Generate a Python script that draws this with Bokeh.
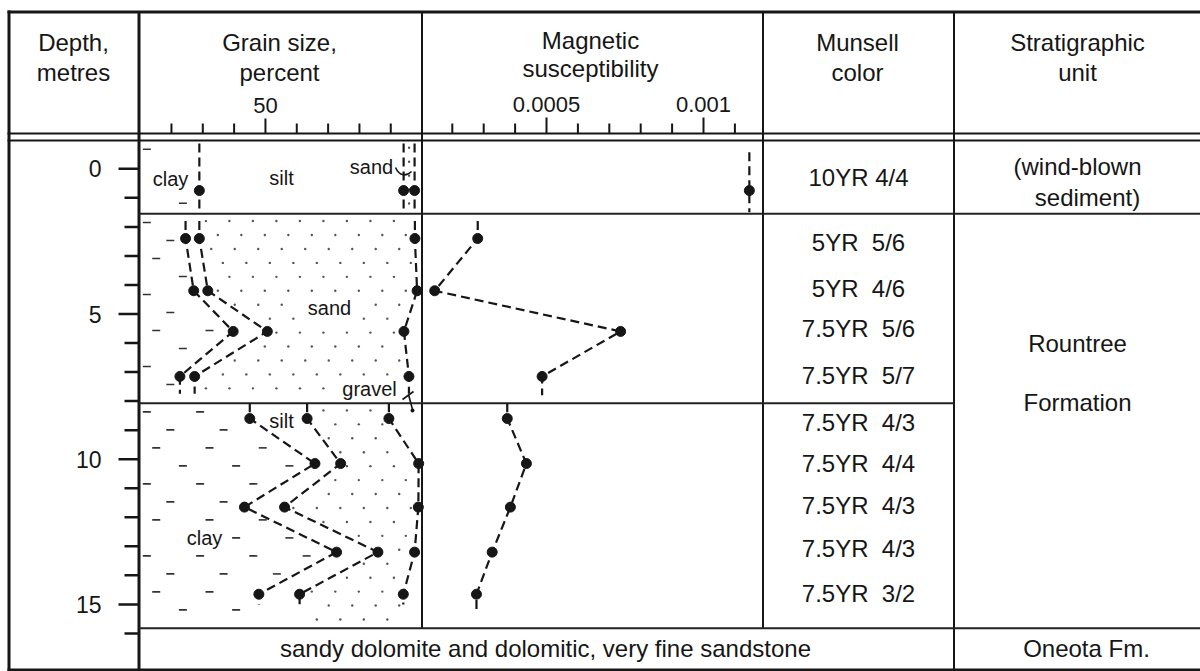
import numpy as np
from bokeh.plotting import figure
from bokeh.models import Range1d, ColumnDataSource
from bokeh.core.properties import value
from bokeh.embed import file_html
from bokeh.resources import INLINE

# ------------------------------------------------------------------ data
sample_depth_m = [0.75, 2.4, 4.2, 5.6, 7.15, 8.6, 10.15, 11.65, 13.2, 14.65]
sample_group = [0, 1, 1, 1, 1, 2, 2, 2, 2, 2]
clay_pct = [28.9, 24.5, 27.1, 39.7, 22.7, 45.0, 65.8, 43.3, 72.7, 47.9]
clay_silt_pct = [94.1, 28.9, 31.6, 50.6, 27.4, 63.3, 74.0, 56.1, 85.9, 60.9]
clay_silt_sand_pct = [97.6, 97.7, 98.4, 94.2, 95.8, 89.4, 98.9, 98.8, 97.6, 94.0]
mag_susceptibility = [0.001146, 0.000281, 0.000144, 0.000736, 0.000486,
                      0.000375, 0.000436, 0.000385, 0.000327, 0.000277]
munsell_color = ["10YR 4/4", "5YR\u00a0 5/6", "5YR\u00a0 4/6", "7.5YR\u00a0 5/6",
                 "7.5YR\u00a0 5/7", "7.5YR\u00a0 4/3", "7.5YR\u00a0 4/4",
                 "7.5YR\u00a0 4/3", "7.5YR\u00a0 4/3", "7.5YR\u00a0 3/2"]
munsell_depth_m = [0.29, 2.53, 4.13, 5.51, 7.12, 8.73, 10.16, 11.59, 13.09, 14.61]

group_boundary_m = [1.55, 8.07]      # breaks between sample groups
formation_base_m = 15.82             # base of Rountree Fm. / top of Oneota Fm.
grain_line_top_m = [None, 1.8, 8.07]
grain_line_bottom_m = [1.5, 7.75, 15.0]
mag_line_top_m = [-0.57, 1.8, 8.07]
mag_line_bottom_m = [1.5, 7.8, 15.2]

depth_ticks = list(range(0, 17))
depth_labelled = [0, 5, 10, 15]
grain_ticks = [20, 30, 40, 50, 60, 70, 80, 90]
grain_labelled = [50]
mag_ticks = [0.0002, 0.0003, 0.0004, 0.0005, 0.0006, 0.0007, 0.0008, 0.0009, 0.0010, 0.0011]
mag_labelled = [0.0005, 0.001]
mag_tick_text = ["0.0005", "0.001"]

# ------------------------------------------------------------------ layout (page pixels)
X0, Y0 = 0, 0
W, H = 1200, 671
XL, XD, XG, XM, XU, XR = 8.5, 138.5, 421.5, 762.5, 953.5, 1200
YT, YH1, YH2, YB = 11.5, 133, 140, 669.5

# calibration of the scales on the page
DEPTH_Y0, DEPTH_PX = 168.3, 29.04
GRAIN_X0, GRAIN_PX = 108.3, 3.133
MAG_X0, MAG_PX = 389.0, 314000.0

def y_to_depth(y):
    return (y - DEPTH_Y0) / DEPTH_PX

def depth_to_y(d):
    return DEPTH_Y0 + d * DEPTH_PX

def x_to_grain(x):
    return (x - GRAIN_X0) / GRAIN_PX

def grain_to_x(v):
    return GRAIN_X0 + v * GRAIN_PX

def x_to_mag(x):
    return (x - MAG_X0) / MAG_PX

INK = "#161616"
FONT = value("Liberation Sans")

p = figure(width=W, height=H, x_range=Range1d(X0, X0 + W), y_range=Range1d(Y0 + H, Y0),
           output_backend="svg", toolbar_location=None, min_border=0,
           x_axis_location=None, y_axis_location=None, outline_line_color=None,
           background_fill_color="white", border_fill_color="white")
p.grid.grid_line_color = None
p.grid.visible = False
p.extra_x_ranges = {"grain": Range1d(x_to_grain(X0), x_to_grain(X0 + W)),
                    "mag": Range1d(x_to_mag(X0), x_to_mag(X0 + W))}
p.extra_y_ranges = {"depth": Range1d(y_to_depth(Y0 + H), y_to_depth(Y0))}

top0 = y_to_depth(YH2)
group_top = [top0] + group_boundary_m
group_bot = group_boundary_m + [formation_base_m]
grain_top = [top0 + 0.1 if v is None else v for v in grain_line_top_m]

# ------------------------------------------------------------------ table frame
XS = XL - 1.5
frame = dict(x0=[XS, XL, XS, XS, XD, XG, XM, XU],
             y0=[YT, YT - 1.5, YH1, YH2, YT, YT, YT, YT],
             x1=[XR, XL, XR, XR, XD, XG, XM, XU],
             y1=[YT, YB + 1.5, YH1, YH2, YB, YH2, YH2, YB],
             w=[3, 3, 2, 2, 3, 2, 2, 2])
p.segment("x0", "y0", "x1", "y1", source=ColumnDataSource(frame), line_color=INK, line_width="w")
p.segment(x0=[XS], y0=[YB], x1=[XR], y1=[YB], line_color=INK, line_width=3)

# column separators below header, down to formation base (depth units)
p.segment(x0=[XG, XM], y0=[top0] * 2, x1=[XG, XM], y1=[formation_base_m] * 2,
          y_range_name="depth", line_color=INK, line_width=2)
# horizontal unit / group boundaries
p.segment(x0=[XD, XD, XD], y0=[group_boundary_m[0], group_boundary_m[1], formation_base_m],
          x1=[XR, XU, XR], y1=[group_boundary_m[0], group_boundary_m[1], formation_base_m],
          y_range_name="depth", line_color="#222222", line_width=2)

# ------------------------------------------------------------------ depth axis
dmaj = [d in depth_labelled for d in depth_ticks]
p.segment(x0=[118 if m else 124 for m in dmaj], y0=depth_ticks,
          x1=[XD] * len(depth_ticks), y1=depth_ticks,
          y_range_name="depth", line_color=INK, line_width=2.5)
p.text(x=[101] * len(depth_labelled), y=depth_labelled, text=[str(d) for d in depth_labelled],
       y_range_name="depth", text_align="right", text_baseline="middle",
       text_font=FONT, text_font_size="23px", text_color=INK)

# grain-size axis (in header)
p.segment(x0=grain_ticks, y0=[YH1] * len(grain_ticks), x1=grain_ticks,
          y1=[118 if t in grain_labelled else 123 for t in grain_ticks],
          x_range_name="grain", line_color=INK, line_width=2)
p.text(x=grain_labelled, y=[104.5] * len(grain_labelled), text=[str(t) for t in grain_labelled],
       x_range_name="grain", text_align="center", text_baseline="middle",
       text_font=FONT, text_font_size="22px", text_color=INK)

# magnetic-susceptibility axis (in header)
mmaj = [any(abs(t - m) < 1e-9 for m in mag_labelled) for t in mag_ticks]
p.segment(x0=mag_ticks, y0=[YH1] * len(mag_ticks), x1=mag_ticks,
          y1=[117 if m else 123 for m in mmaj],
          x_range_name="mag", line_color=INK, line_width=2)
p.text(x=mag_labelled, y=[104] * len(mag_labelled), text=mag_tick_text,
       x_range_name="mag", text_align="center", text_baseline="middle",
       text_font=FONT, text_font_size="22px", text_color=INK)

# ------------------------------------------------------------------ grain-class labels
cls = dict(x=[170, 281, 371, 329, 369, 281, 204],
           y=[178, 177, 166, 307, 388, 420, 537],
           t=["clay", "silt", "sand", "sand", "gravel", "silt", "clay"])

def near_label(xx, dd):
    px, py = grain_to_x(xx), depth_to_y(dd)
    for lx, ly, lt in zip(cls["x"], cls["y"], cls["t"]):
        if abs(px - lx) < len(lt) * 5.5 + 9 and abs(py - ly) < 14:
            return True
    return False

# ------------------------------------------------------------------ texture (clay dashes, sand dots)
n = len(sample_depth_m)
def group_line(series, g, top, bot):
    idx = [i for i in range(n) if sample_group[i] == g]
    d = [top] + [sample_depth_m[i] for i in idx] + [bot]
    v = [series[idx[0]]] + [series[i] for i in idx] + [series[idx[-1]]]
    return d, v

left_pct = x_to_grain(XD)
dash_x, dash_y, dot_x, dot_y = [], [], [], []
for g in range(3):
    top, bot = group_top[g], group_bot[g]
    dc, vc = group_line(clay_pct, g, top, bot)
    ds, vs = group_line(clay_silt_pct, g, top, bot)
    dz, vz = group_line(clay_silt_sand_pct, g, top, bot)
    for i, dd in enumerate(np.arange(top + 0.3, bot - 0.15, 0.62)):
        lim = np.interp(dd, dc, vc)
        off = [2.5, 10.0, 5.5, 14.0][i % 4]
        for xx in np.arange(left_pct + off, 100, 17.0):
            if xx < lim - 2.2 and not near_label(xx, dd):
                dash_x.append(xx)
                dash_y.append(dd)
    for i, dd in enumerate(np.arange(top + 0.25, bot - 0.1, 0.48)):
        lo = np.interp(dd, ds, vs)
        hi = np.interp(dd, dz, vz)
        off = [1.0, 4.8, 2.7, 6.4][i % 4]
        for xx in np.arange(off, 100, 7.5):
            if lo + 1.8 < xx < hi - 1.3 and not near_label(xx, dd):
                dot_x.append(xx)
                dot_y.append(dd)
        if hi - lo < 6:
            dot_x.append((lo + hi) / 2)
            dot_y.append(dd)

p.scatter(dash_x, dash_y, marker="dash", size=8, line_width=1.6, line_color="#333333",
          x_range_name="grain", y_range_name="depth")
p.scatter(dot_x, dot_y, marker="circle", size=2.4, fill_color="#555555", line_color=None,
          x_range_name="grain", y_range_name="depth")

# ------------------------------------------------------------------ data lines and points
for g in range(3):
    for series in (clay_pct, clay_silt_pct, clay_silt_sand_pct):
        d, v = group_line(series, g, grain_top[g], grain_line_bottom_m[g])
        p.line(v, d, x_range_name="grain", y_range_name="depth",
               line_color=INK, line_width=2.2, line_dash="9 5")
    d, v = group_line(mag_susceptibility, g, mag_line_top_m[g], mag_line_bottom_m[g])
    p.line(v, d, x_range_name="mag", y_range_name="depth",
           line_color=INK, line_width=2.2, line_dash="9 5")

for series in (clay_pct, clay_silt_pct, clay_silt_sand_pct):
    p.scatter(series, sample_depth_m, size=10, fill_color=INK, line_color=INK,
              x_range_name="grain", y_range_name="depth")
p.scatter(mag_susceptibility, sample_depth_m, size=10, fill_color=INK, line_color=INK,
          x_range_name="mag", y_range_name="depth")

# class labels and leaders
p.text("x", "y", "t", source=ColumnDataSource(cls), text_align="center", text_baseline="middle",
       text_font=FONT, text_font_size="20px", text_color=INK)
p.bezier(x0=[395], y0=[167], x1=[411], y1=[171], cx0=[399], cy0=[176], cx1=[406], cy1=[176],
         line_color=INK, line_width=1.6)
p.segment(x0=[402, 408], y0=[399, 394], x1=[413, 412], y1=[391, 409], line_color=INK, line_width=1.6)
p.scatter([412], [410], size=4, fill_color=INK, line_color=None)

# ------------------------------------------------------------------ Munsell colours
p.text(x=[858] * n, y=munsell_depth_m, text=munsell_color, y_range_name="depth",
       text_align="center", text_baseline="middle",
       text_font=FONT, text_font_size="24px", text_color=INK)

# ------------------------------------------------------------------ header + stratigraphy texts
hdr = dict(x=[73, 73, 279, 279, 590, 590, 857, 857, 1077, 1077],
           y=[41.5, 71.5, 41.5, 71.5, 39.5, 68, 41.5, 71.5, 41.5, 72],
           t=["Depth,", "metres", "Grain size,", "percent", "Magnetic", "susceptibility",
              "Munsell", "color", "Stratigraphic", "unit"])
p.text("x", "y", "t", source=ColumnDataSource(hdr), text_align="center", text_baseline="middle",
       text_font=FONT, text_font_size="24px", text_color=INK)

strat = dict(x=[1077, 1087, 1077, 1077, 1086, 545],
             y=[166, 197, 343, 402, 648, 648],
             t=["(wind-blown", "sediment)", "Rountree", "Formation", "Oneota Fm.",
                "sandy dolomite and dolomitic, very fine sandstone"])
p.text("x", "y", "t", source=ColumnDataSource(strat), text_align="center", text_baseline="middle",
       text_font=FONT, text_font_size="24px", text_color=INK)

open("out.html", "w").write(file_html(p, INLINE))
